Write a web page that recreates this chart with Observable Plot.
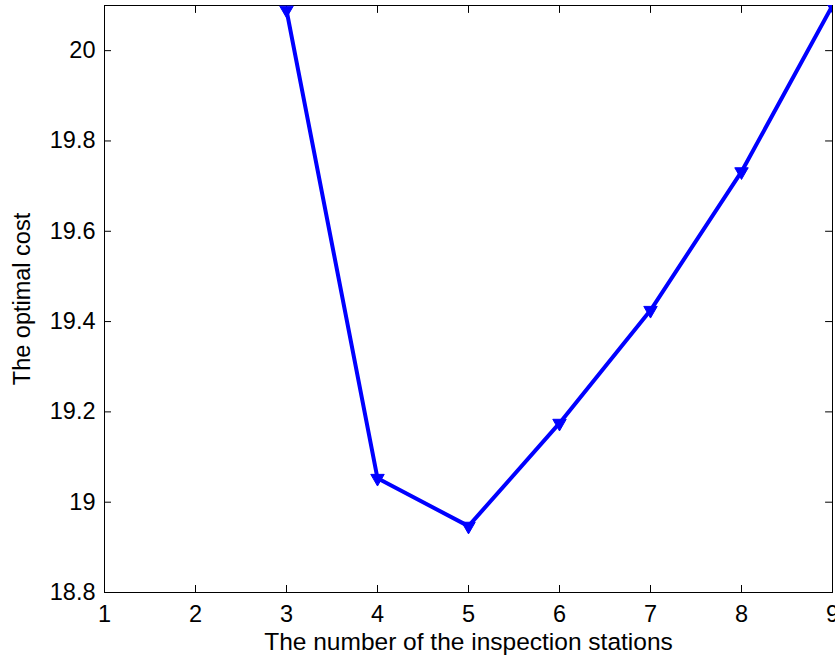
<!DOCTYPE html>
<html>
<head>
<meta charset="utf-8">
<script src="https://cdn.jsdelivr.net/npm/d3@7"></script>
<script src="https://cdn.jsdelivr.net/npm/@observablehq/plot@0.6"></script>
<style>
  html, body { margin: 0; padding: 0; background: #fff; }
  #chart svg { font-family: "Liberation Sans", Arial, sans-serif; }
</style>
</head>
<body>
<div id="chart"></div>
<script>
const stations = [3, 4, 5, 6, 7, 8, 9];
const optimalCost = [20.09, 19.053, 18.947, 19.175, 19.425, 19.732, 20.10];
const xTicks = [1, 2, 3, 4, 5, 6, 7, 8, 9];
const yTicks = [18.8, 19, 19.2, 19.4, 19.6, 19.8, 20];
const xLabel = "The number of the inspection stations";
const yLabel = "The optimal cost";

const data = stations.map((s, i) => ({x: s, y: optimalCost[i]}));

const tickShape = {
  draw(context, l) { context.moveTo(0, 0); context.lineTo(0, -l); }
};

const chart = Plot.plot({
  width: 835,
  height: 659,
  marginLeft: 104,
  marginRight: 3,
  marginTop: 5,
  marginBottom: 67,
  style: {fontSize: "23.5px", fontFamily: "Liberation Sans, Arial, sans-serif", color: "#000", background: "#fff", overflow: "visible"},
  x: {domain: [1, 9]},
  y: {domain: [18.8, 20.1]},
  marks: [
    Plot.frame({stroke: "#000", strokeWidth: 1}),
    Plot.axisX(xTicks, {anchor: "bottom", tickSize: -7, tickPadding: 20, label: null, tickFormat: d => String(d), fontSize: 23.5}),
    Plot.axisY(yTicks, {anchor: "left", tickSize: -7, tickPadding: 16, label: null, tickFormat: d => (d === 19 || d === 20) ? String(d) : d.toFixed(1), fontSize: 23.5}),
    Plot.vector(xTicks, {x: d => d, frameAnchor: "top", length: 7, rotate: 180, anchor: "start", shape: tickShape, stroke: "#000", strokeWidth: 1}),
    Plot.vector(yTicks, {y: d => d, frameAnchor: "right", length: 7, rotate: -90, anchor: "start", shape: tickShape, stroke: "#000", strokeWidth: 1}),
    Plot.line(data, {x: "x", y: "y", stroke: "#0000ff", strokeWidth: 4, clip: true}),
    Plot.dot(data, {x: "x", y: "y", symbol: "triangle", rotate: 180, r: 5, fill: "#0000ff", stroke: "#0000ff", strokeWidth: 1, clip: true}),
    Plot.text([xLabel], {frameAnchor: "bottom", dy: 57, text: d => d, fontSize: 24.5, fill: "#000"}),
    Plot.text([yLabel], {frameAnchor: "left", dx: -82, rotate: -90, textAnchor: "middle", text: d => d, fontSize: 23.5, fill: "#000"})
  ]
});
document.getElementById("chart").appendChild(chart);
</script>
</body>
</html>
